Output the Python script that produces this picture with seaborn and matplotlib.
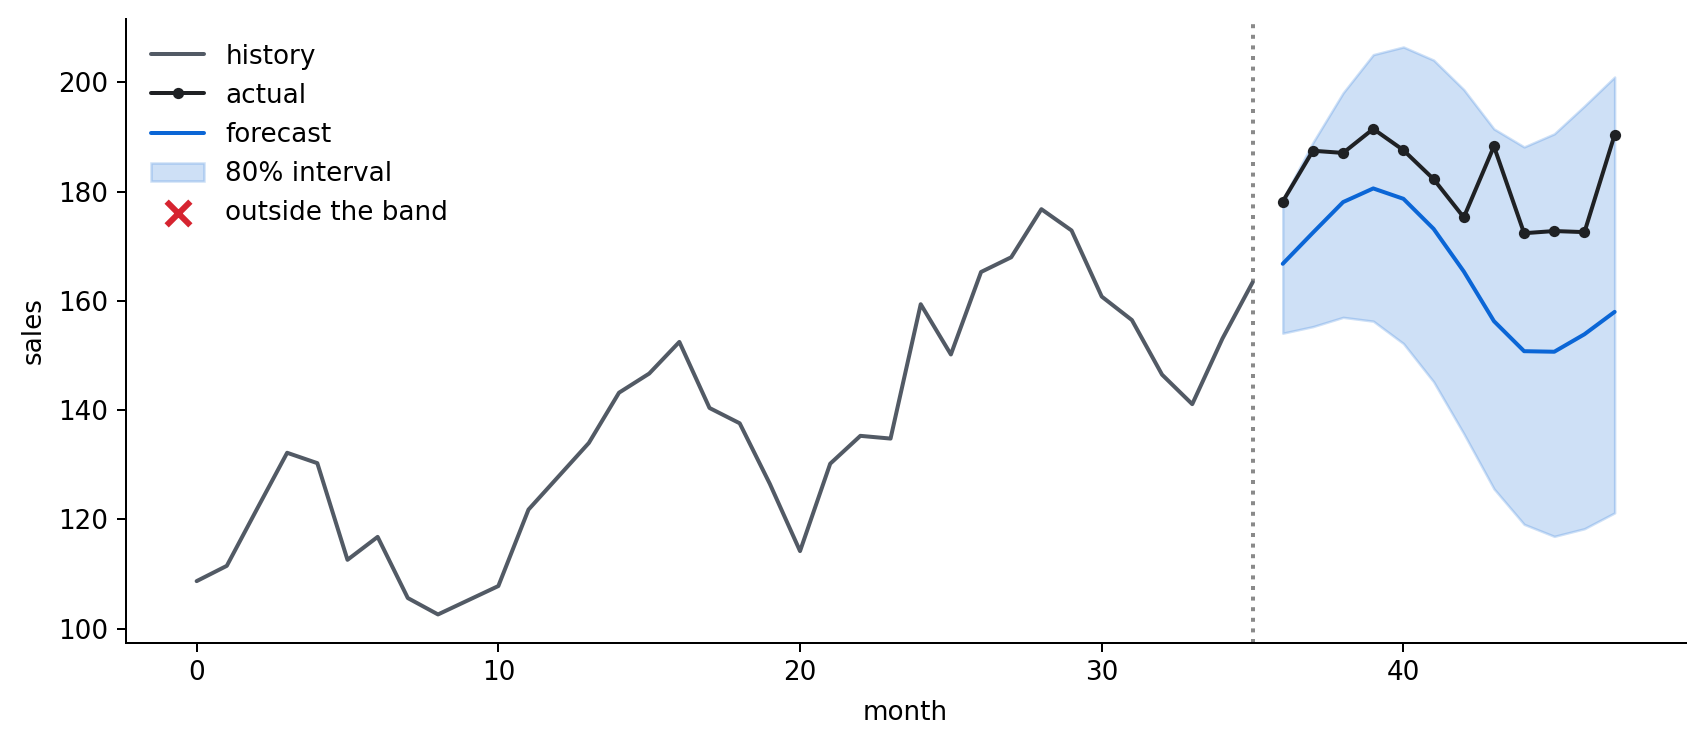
import numpy as np
import pandas as pd
import matplotlib
matplotlib.use("Agg")
import matplotlib.pyplot as plt
import seaborn as sns

# ---- data ----
history_months = list(range(0, 36))
history_sales = [108.7, 111.5, 121.9, 132.2, 130.3, 112.6, 116.8, 105.6, 102.6, 105.2,
                 107.8, 121.8, 127.9, 134.0, 143.2, 146.7, 152.5, 140.4, 137.6, 126.5,
                 114.2, 130.2, 135.3, 134.8, 159.4, 150.2, 165.3, 168.0, 176.8, 172.9,
                 160.8, 156.5, 146.5, 141.1, 153.1, 163.4]

future_months = list(range(36, 48))
actual_sales = [178.2, 187.5, 187.1, 191.5, 187.6, 182.3, 175.3, 188.3, 172.4, 172.8, 172.6, 190.4]
forecast_sales = [166.8, 172.5, 178.1, 180.6, 178.7, 173.2, 165.4, 156.3, 150.8, 150.7, 153.9, 158.0]
upper_80 = [178.6, 189.0, 198.1, 205.1, 206.5, 204.1, 198.7, 191.5, 188.2, 190.6, 195.7, 201.0]
lower_80 = [154.1, 155.3, 157.0, 156.3, 152.2, 145.2, 135.7, 125.6, 119.1, 116.9, 118.3, 121.2]

hist_df = pd.DataFrame({"month": history_months, "sales": history_sales})
fut_df = pd.DataFrame({"month": future_months, "actual": actual_sales,
                       "forecast": forecast_sales, "lower": lower_80, "upper": upper_80})
outside = fut_df[(fut_df["actual"] > fut_df["upper"]) | (fut_df["actual"] < fut_df["lower"])]

# ---- style ----
sns.set_style("ticks", rc={
    "axes.edgecolor": "black", "text.color": "black", "axes.labelcolor": "black",
    "xtick.color": "black", "ytick.color": "black", "axes.linewidth": 0.8,
    "xtick.major.width": 0.8, "ytick.major.width": 0.8,
    "xtick.major.size": 3.5, "ytick.major.size": 3.5,
})
plt.rcParams["font.family"] = ["DejaVu Sans"]
plt.rcParams["font.size"] = 10.5

C_HIST = "#525a65"
C_ACT = "#1f2124"
C_FC = "#0b66d6"
C_RED = "#d62430"

fig = plt.figure(figsize=(1706 / 180, 744 / 180), dpi=180)
ax = fig.add_axes([0.0737, 0.136, 0.9143, 0.839])

sns.lineplot(data=hist_df, x="month", y="sales", ax=ax, color=C_HIST, linewidth=1.6, label="history")
sns.lineplot(data=fut_df, x="month", y="actual", ax=ax, color=C_ACT, linewidth=1.6,
             marker="o", markersize=4.5, markeredgewidth=0, label="actual")
sns.lineplot(data=fut_df, x="month", y="forecast", ax=ax, color=C_FC, linewidth=1.6, label="forecast")
ax.fill_between(fut_df["month"], fut_df["lower"], fut_df["upper"], color=C_FC, alpha=0.2,
                label="80% interval")
ax.scatter(outside["month"], outside["actual"], marker="x", s=90, linewidths=2.4,
           color=C_RED, label="outside the band", zorder=5)
ax.axvline(history_months[-1], color="#8a8a8a", linestyle=":", linewidth=1.6, zorder=1)

ax.set_xlabel("month", labelpad=5.6)
ax.set_ylabel("sales", labelpad=4.5)
sns.despine(ax=ax)

ax.legend(loc="upper left", frameon=False, handlelength=2.05, labelspacing=0.5,
          borderaxespad=0.55)

fig.savefig("out.png", dpi=180)
